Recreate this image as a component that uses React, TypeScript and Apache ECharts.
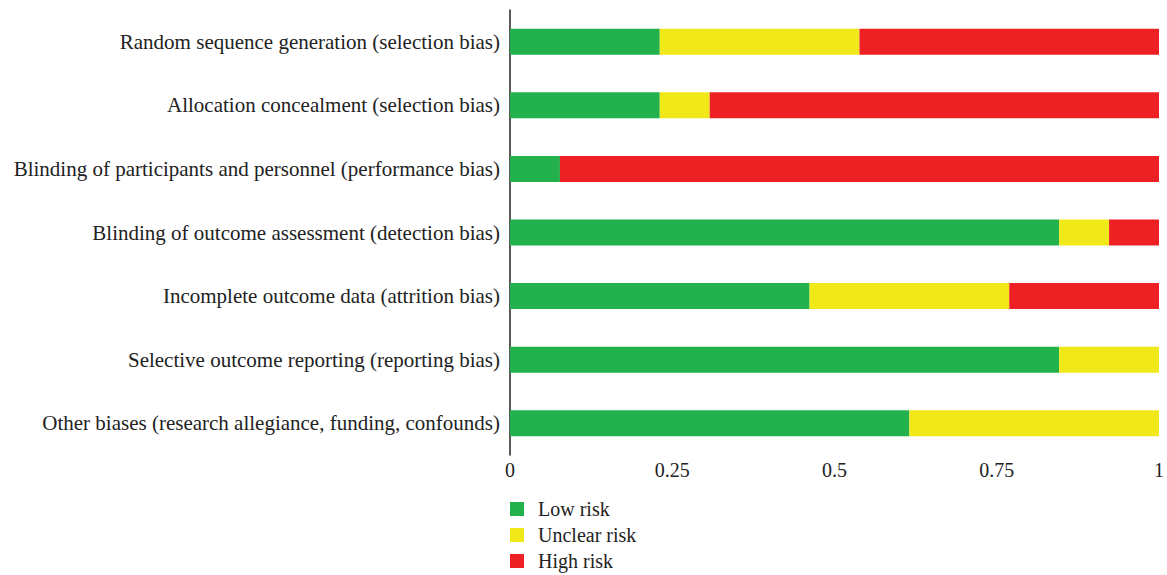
import React, { useEffect, useRef } from "react";
import * as echarts from "echarts";

const categories = [
  "Random sequence generation (selection bias)",
  "Allocation concealment (selection bias)",
  "Blinding of participants and personnel (performance bias)",
  "Blinding of outcome assessment (detection bias)",
  "Incomplete outcome data (attrition bias)",
  "Selective outcome reporting (reporting bias)",
  "Other biases (research allegiance, funding, confounds)",
];
const totalStudies = 13;
const lowRisk = [3, 3, 1, 11, 6, 11, 8];
const unclearRisk = [4, 1, 0, 1, 4, 2, 5];
const highRisk = [6, 9, 12, 1, 3, 0, 0];
const xTicks = [0, 0.25, 0.5, 0.75, 1];

const FONT = "'Liberation Serif', 'DejaVu Serif', serif";

export default function App() {
  const ref = useRef<HTMLDivElement>(null);
  useEffect(() => {
    if (!ref.current) return;
    const chart = echarts.init(ref.current, undefined, { renderer: "svg" });
    const toFrac = (arr: number[]) => arr.map((v) => v / totalStudies);
    const mk = (name: string, data: number[], color: string) => ({
      name,
      type: "bar",
      stack: "total",
      data: toFrac(data),
      barWidth: 26,
      itemStyle: { color },
    });
    chart.setOption({
      animation: false,
      textStyle: { fontFamily: FONT },
      grid: { left: 510, right: 1, top: 10, bottom: 120, containLabel: false },
      xAxis: {
        type: "value",
        min: xTicks[0],
        max: xTicks[xTicks.length - 1],
        interval: 0.25,
        axisLine: { show: false },
        axisTick: { show: false },
        splitLine: { show: false },
        axisLabel: {
          color: "#222",
          fontSize: 20,
          fontFamily: FONT,
          margin: 5,
          formatter: (v: number) => String(v),
        },
      },
      yAxis: {
        type: "category",
        data: categories,
        inverse: true,
        axisLine: { show: true, lineStyle: { color: "#222", width: 1.5 } },
        axisTick: { show: false },
        axisLabel: { color: "#222", fontSize: 21, fontFamily: FONT, margin: 10 },
      },
      legend: {
        orient: "vertical",
        left: 510,
        top: 499,
        padding: 0,
        itemWidth: 14,
        itemHeight: 14,
        itemGap: 6,
        icon: "rect",
        textStyle: { color: "#222", fontSize: 20, fontFamily: FONT, padding: [0, 0, 0, 9] },
        data: ["Low risk", "Unclear risk", "High risk"],
      },
      series: [
        mk("Low risk", lowRisk, "#22b14c"),
        mk("Unclear risk", unclearRisk, "#f1e81a"),
        mk("High risk", highRisk, "#ed2024"),
      ],
    });
    return () => chart.dispose();
  }, []);
  return (
    <div
      ref={ref}
      style={{ position: "fixed", left: 0, top: 0, width: 1167, height: 575, background: "#fff" }}
    />
  );
}
